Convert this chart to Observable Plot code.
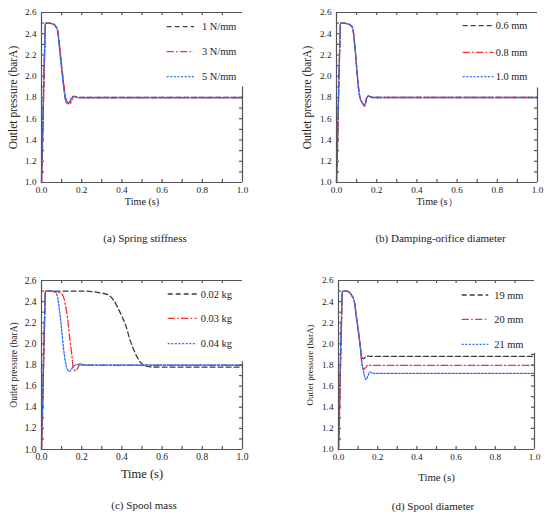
<!DOCTYPE html>
<html><head><meta charset="utf-8">
<script src="https://cdn.jsdelivr.net/npm/d3@7"></script>
<script src="https://cdn.jsdelivr.net/npm/@observablehq/plot@0.6"></script>
<style>
body{margin:0;background:#fff;}
#root{position:relative;width:550px;height:518px;overflow:hidden;background:#fff;font-family:"Liberation Serif","Times New Roman",serif;color:#222;}
.panel{position:absolute;}
.cap{position:absolute;transform:translate(-50%,-50%);white-space:nowrap;font-size:11px;}
.leg{position:absolute;left:0;top:0;overflow:visible;}
</style></head><body><div id="root"></div>
<script>
// ---------- axis ticks ----------
const xDomain = [0, 1];
const yDomain = [1.0, 2.6];
const xTicks = [0, 0.2, 0.4, 0.6, 0.8, 1.0];
const xMinor = [0.1, 0.2, 0.3, 0.4, 0.5, 0.6, 0.7, 0.8, 0.9];
const yTicks = [1.0, 1.2, 1.4, 1.6, 1.8, 2.0, 2.2, 2.4, 2.6];
const yMinor = [1.1, 1.2, 1.3, 1.4, 1.5, 1.6, 1.7, 1.8, 1.9, 2.0, 2.1, 2.2, 2.3, 2.4, 2.5];

const yLabel = "Outlet pressure (barA)";
const xLabelA = "Time (s)";
const xLabelB = "Time (s）";

// ---------- (a) Spring stiffness ----------
const namesA = ["1 N/mm", "3 N/mm", "5 N/mm"];
const timeA = [0, 0.005, 0.01, 0.015, 0.02, 0.03, 0.04, 0.05, 0.06, 0.07, 0.08, 0.09, 0.1, 0.11, 0.12, 0.13, 0.14, 0.15, 0.16, 0.17, 0.18, 0.2, 0.3, 0.4, 0.5, 0.6, 0.7, 0.8, 0.9, 1.0];
const a1 = [1.0, 1.35, 1.8, 2.2, 2.5, 2.5, 2.5, 2.495, 2.49, 2.47, 2.43, 2.27, 2.09, 1.92, 1.78, 1.75, 1.755, 1.79, 1.81, 1.805, 1.80, 1.80, 1.80, 1.80, 1.80, 1.80, 1.80, 1.80, 1.80, 1.80];
const a3 = [1.0, 1.3, 1.75, 2.15, 2.5, 2.5, 2.5, 2.495, 2.49, 2.47, 2.44, 2.29, 2.11, 1.94, 1.80, 1.75, 1.735, 1.77, 1.81, 1.81, 1.80, 1.797, 1.797, 1.797, 1.797, 1.797, 1.797, 1.797, 1.797, 1.797];
const a5 = [1.05, 1.45, 1.9, 2.25, 2.5, 2.5, 2.5, 2.495, 2.49, 2.47, 2.42, 2.25, 2.07, 1.90, 1.77, 1.745, 1.76, 1.80, 1.81, 1.805, 1.80, 1.80, 1.80, 1.80, 1.80, 1.80, 1.80, 1.80, 1.80, 1.80];

// ---------- (b) Damping-orifice diameter ----------
const namesB = ["0.6 mm", "0.8 mm", "1.0 mm"];
const timeB = [0, 0.005, 0.01, 0.015, 0.02, 0.03, 0.04, 0.05, 0.06, 0.07, 0.08, 0.09, 0.1, 0.11, 0.12, 0.13, 0.14, 0.15, 0.16, 0.17, 0.18, 0.2, 0.3, 0.4, 0.5, 0.6, 0.7, 0.8, 0.9, 1.0];
const b06 = [1.0, 1.35, 1.8, 2.2, 2.5, 2.5, 2.5, 2.495, 2.49, 2.48, 2.46, 2.31, 2.09, 1.88, 1.78, 1.745, 1.722, 1.795, 1.815, 1.805, 1.80, 1.80, 1.80, 1.80, 1.80, 1.80, 1.80, 1.80, 1.80, 1.80];
const b08 = [1.0, 1.3, 1.75, 2.15, 2.5, 2.5, 2.5, 2.495, 2.49, 2.48, 2.46, 2.32, 2.10, 1.89, 1.78, 1.745, 1.72, 1.79, 1.815, 1.805, 1.80, 1.80, 1.80, 1.80, 1.80, 1.80, 1.80, 1.80, 1.80, 1.80];
const b10 = [1.05, 1.4, 1.85, 2.2, 2.5, 2.5, 2.5, 2.495, 2.49, 2.48, 2.45, 2.30, 2.08, 1.87, 1.78, 1.745, 1.725, 1.795, 1.815, 1.805, 1.80, 1.80, 1.80, 1.80, 1.80, 1.80, 1.80, 1.80, 1.80, 1.80];

// ---------- (c) Spool mass ----------
const namesC = ["0.02 kg", "0.03 kg", "0.04 kg"];
const timeC = [0, 0.005, 0.01, 0.015, 0.02, 0.03, 0.04, 0.05, 0.06, 0.07, 0.08, 0.09, 0.1, 0.11, 0.12, 0.13, 0.14, 0.15, 0.16, 0.17, 0.18, 0.19, 0.2, 0.21, 0.25, 0.3, 0.33, 0.36, 0.38, 0.4, 0.42, 0.44, 0.46, 0.48, 0.5, 0.52, 0.55, 0.6, 0.7, 0.8, 0.9, 1.0];
const c002 = [1.0, 1.35, 1.8, 2.2, 2.5, 2.5, 2.5, 2.5, 2.5, 2.5, 2.5, 2.5, 2.5, 2.5, 2.5, 2.5, 2.5, 2.5, 2.5, 2.5, 2.5, 2.5, 2.5, 2.5, 2.495, 2.48, 2.465, 2.41, 2.34, 2.26, 2.17, 2.04, 1.94, 1.86, 1.81, 1.79, 1.782, 1.78, 1.78, 1.78, 1.78, 1.78];
const c003 = [1.0, 1.3, 1.75, 2.15, 2.5, 2.5, 2.5, 2.5, 2.495, 2.49, 2.49, 2.485, 2.475, 2.44, 2.36, 2.24, 2.06, 1.91, 1.76, 1.745, 1.77, 1.81, 1.815, 1.80, 1.797, 1.797, 1.797, 1.797, 1.797, 1.797, 1.797, 1.797, 1.797, 1.797, 1.797, 1.797, 1.797, 1.797, 1.797, 1.797, 1.797, 1.797];
const c004 = [1.05, 1.45, 1.9, 2.25, 2.5, 2.5, 2.5, 2.5, 2.5, 2.49, 2.44, 2.31, 2.14, 1.95, 1.82, 1.755, 1.74, 1.765, 1.79, 1.80, 1.805, 1.80, 1.80, 1.80, 1.80, 1.80, 1.80, 1.80, 1.80, 1.80, 1.80, 1.80, 1.80, 1.80, 1.80, 1.80, 1.80, 1.80, 1.80, 1.80, 1.80, 1.80];

// ---------- (d) Spool diameter ----------
const namesD = ["19 mm", "20 mm", "21 mm"];
const timeD = [0, 0.005, 0.01, 0.015, 0.02, 0.03, 0.04, 0.05, 0.06, 0.07, 0.08, 0.09, 0.1, 0.11, 0.12, 0.13, 0.14, 0.15, 0.16, 0.17, 0.18, 0.2, 0.3, 0.4, 0.5, 0.6, 0.7, 0.8, 0.9, 1.0];
const d19 = [1.0, 1.35, 1.8, 2.2, 2.5, 2.5, 2.5, 2.495, 2.48, 2.45, 2.41, 2.27, 2.14, 1.99, 1.87, 1.86, 1.885, 1.884, 1.882, 1.882, 1.882, 1.882, 1.882, 1.882, 1.882, 1.882, 1.882, 1.882, 1.882, 1.882];
const d20 = [1.0, 1.3, 1.75, 2.15, 2.5, 2.5, 2.5, 2.495, 2.48, 2.45, 2.41, 2.27, 2.14, 1.99, 1.80, 1.76, 1.78, 1.80, 1.797, 1.797, 1.797, 1.797, 1.797, 1.797, 1.797, 1.797, 1.797, 1.797, 1.797, 1.797];
const d21 = [1.05, 1.45, 1.9, 2.25, 2.5, 2.5, 2.5, 2.495, 2.48, 2.45, 2.41, 2.27, 2.14, 1.99, 1.82, 1.72, 1.66, 1.695, 1.735, 1.725, 1.72, 1.72, 1.72, 1.72, 1.72, 1.72, 1.72, 1.72, 1.72, 1.72];

// ---------- captions ----------
const captions = ["(a) Spring stiffness", "(b) Damping-orifice diameter", "(c) Spool mass", "(d) Spool diameter"];

// ---------- styles ----------
const seriesStyle = [
  {color: "#3c3c3c", dash: "5,3"},
  {color: "#ff2b2b", dash: "7,2.5,1.5,2.5"},
  {color: "#2f6cf5", dash: "2,1.6"}
];
const frameColor = "#555";

// ---------- layout ----------
const panels = [
  {left: 0, top: 0, width: 275, height: 225, ml: 41, mr: 33, mt: 12, mb: 43,
   names: namesA, time: timeA, values: [a1, a3, a5], rightTop: 1.90, xLabel: xLabelA,
   yLabelDx: -28.5, yLabelSize: 11.5, xLabelDy: 19, xLabelSize: 10.2, tickFont: 9.2,
   leg: {x1: 166.7, x2: 194, tx: 202, rows: [26.7, 51.7, 76.7]}, cap: {x: 145, y: 238}},
  {left: 275, top: 0, width: 275, height: 225, ml: 61, mr: 13, mt: 12, mb: 43,
   names: namesB, time: timeB, values: [b06, b08, b10], rightTop: 1.89, xLabel: xLabelB,
   yLabelDx: -29, yLabelSize: 11.5, xLabelDy: 19, xLabelSize: 10.2, tickFont: 9.2,
   leg: {x1: 462.7, x2: 493.3, tx: 495.7, rows: [25.7, 52.3, 76.7]}, cap: {x: 440.5, y: 238}},
  {left: 0, top: 255, width: 275, height: 225, ml: 41, mr: 33, mt: 25, mb: 31,
   names: namesC, time: timeC, values: [c002, c003, c004], rightTop: 1.83, xLabel: xLabelA,
   yLabelDx: -27.7, yLabelSize: 9.5, xLabelDy: 24, xLabelSize: 12.5, tickFont: 9.5,
   leg: {x1: 167.7, x2: 196.7, tx: 200.7, rows: [294, 318.3, 343.7]}, cap: {x: 144, y: 505}},
  {left: 275, top: 255, width: 275, height: 225, ml: 63, mr: 16, mt: 25, mb: 31,
   names: namesD, time: timeD, values: [d19, d20, d21], rightTop: 1.91, xLabel: xLabelA,
   yLabelDx: -28, yLabelSize: 9, xLabelDy: 28.4, xLabelSize: 10.8, tickFont: 9.2,
   leg: {x1: 461.7, x2: 488.3, tx: 494.3, rows: [295, 319.3, 344.3]}, cap: {x: 433, y: 505.5}}
];

const root = document.getElementById("root");
const fmt = d => d.toFixed(1);

panels.forEach((p, pi) => {
  const fw = p.width - p.ml - p.mr;
  const fh = p.height - p.mt - p.mb;
  const rows = p.values.flatMap((vals, si) => p.time.map((t, i) => ({t, v: vals[i], s: si})));
  const lineMarks = p.values.map((_, si) =>
    Plot.line(rows.filter(r => r.s === si), {
      x: "t", y: "v", stroke: seriesStyle[si].color, strokeWidth: 1.3,
      strokeDasharray: seriesStyle[si].dash, curve: "monotone-x"
    })
  );
  const fStyle = {stroke: frameColor, strokeWidth: 1.2};
  const chart = Plot.plot({
    width: p.width, height: p.height,
    marginLeft: p.ml, marginRight: p.mr, marginTop: p.mt, marginBottom: p.mb,
    style: {fontFamily: "'Liberation Serif', 'Times New Roman', serif", background: "transparent", color: "#222", overflow: "visible"},
    x: {domain: xDomain},
    y: {domain: yDomain},
    marks: [
      Plot.axisX({ticks: xTicks, tickSize: 0, tickPadding: 4, tickFormat: fmt, fontSize: p.tickFont, label: null, fill: "#222"}),
      Plot.axisY({ticks: yTicks, tickSize: 0, tickPadding: 5, tickFormat: fmt, fontSize: p.tickFont, label: null, fill: "#222"}),
      ...lineMarks,
      // frame
      Plot.ruleX([xDomain[0]], fStyle),
      Plot.ruleY([yDomain[0]], fStyle),
      Plot.ruleY([yDomain[1]], fStyle),
      Plot.ruleX([xDomain[1]], {y1: yDomain[0], y2: p.rightTop, ...fStyle}),
      // inward ticks
      Plot.ruleX(xMinor, {insetTop: fh - 3, ...fStyle}),
      Plot.ruleX(xMinor, {insetBottom: fh - 3, ...fStyle}),
      Plot.ruleY(yMinor, {insetRight: fw - 3, ...fStyle}),
      Plot.ruleY(yMinor.filter(v => v < p.rightTop), {insetLeft: fw - 3, ...fStyle}),
      // axis titles
      Plot.text([p.xLabel], {frameAnchor: "bottom", dy: p.xLabelDy, text: d => d, fontSize: p.xLabelSize, lineAnchor: "middle", textAnchor: "middle", fill: "#222"}),
      Plot.text([yLabel], {frameAnchor: "left", dx: p.yLabelDx, rotate: -90, text: d => d, fontSize: p.yLabelSize, lineAnchor: "middle", textAnchor: "middle", fill: "#222"})
    ]
  });
  chart.classList.add("panel");
  chart.style.left = p.left + "px";
  chart.style.top = p.top + "px";
  root.appendChild(chart);

  // caption
  const cap = document.createElement("div");
  cap.className = "cap";
  cap.textContent = captions[pi];
  cap.style.left = p.cap.x + "px";
  cap.style.top = p.cap.y + "px";
  root.appendChild(cap);
});

// legends (overlay)
const NS = "http://www.w3.org/2000/svg";
const leg = document.createElementNS(NS, "svg");
leg.setAttribute("class", "leg");
leg.setAttribute("width", 550);
leg.setAttribute("height", 518);
panels.forEach(p => {
  p.names.forEach((name, si) => {
    const y = p.leg.rows[si];
    const ln = document.createElementNS(NS, "line");
    ln.setAttribute("x1", p.leg.x1); ln.setAttribute("x2", p.leg.x2);
    ln.setAttribute("y1", y); ln.setAttribute("y2", y);
    ln.setAttribute("stroke", seriesStyle[si].color);
    ln.setAttribute("stroke-width", 1.3);
    ln.setAttribute("stroke-dasharray", seriesStyle[si].dash);
    leg.appendChild(ln);
    const tx = document.createElementNS(NS, "text");
    tx.setAttribute("x", p.leg.tx); tx.setAttribute("y", y);
    tx.setAttribute("dy", "0.35em");
    tx.setAttribute("font-size", 10.4);
    tx.setAttribute("fill", "#222");
    tx.setAttribute("font-family", "'Liberation Serif', 'Times New Roman', serif");
    tx.textContent = name;
    leg.appendChild(tx);
  });
});
root.appendChild(leg);
</script>
</body></html>
